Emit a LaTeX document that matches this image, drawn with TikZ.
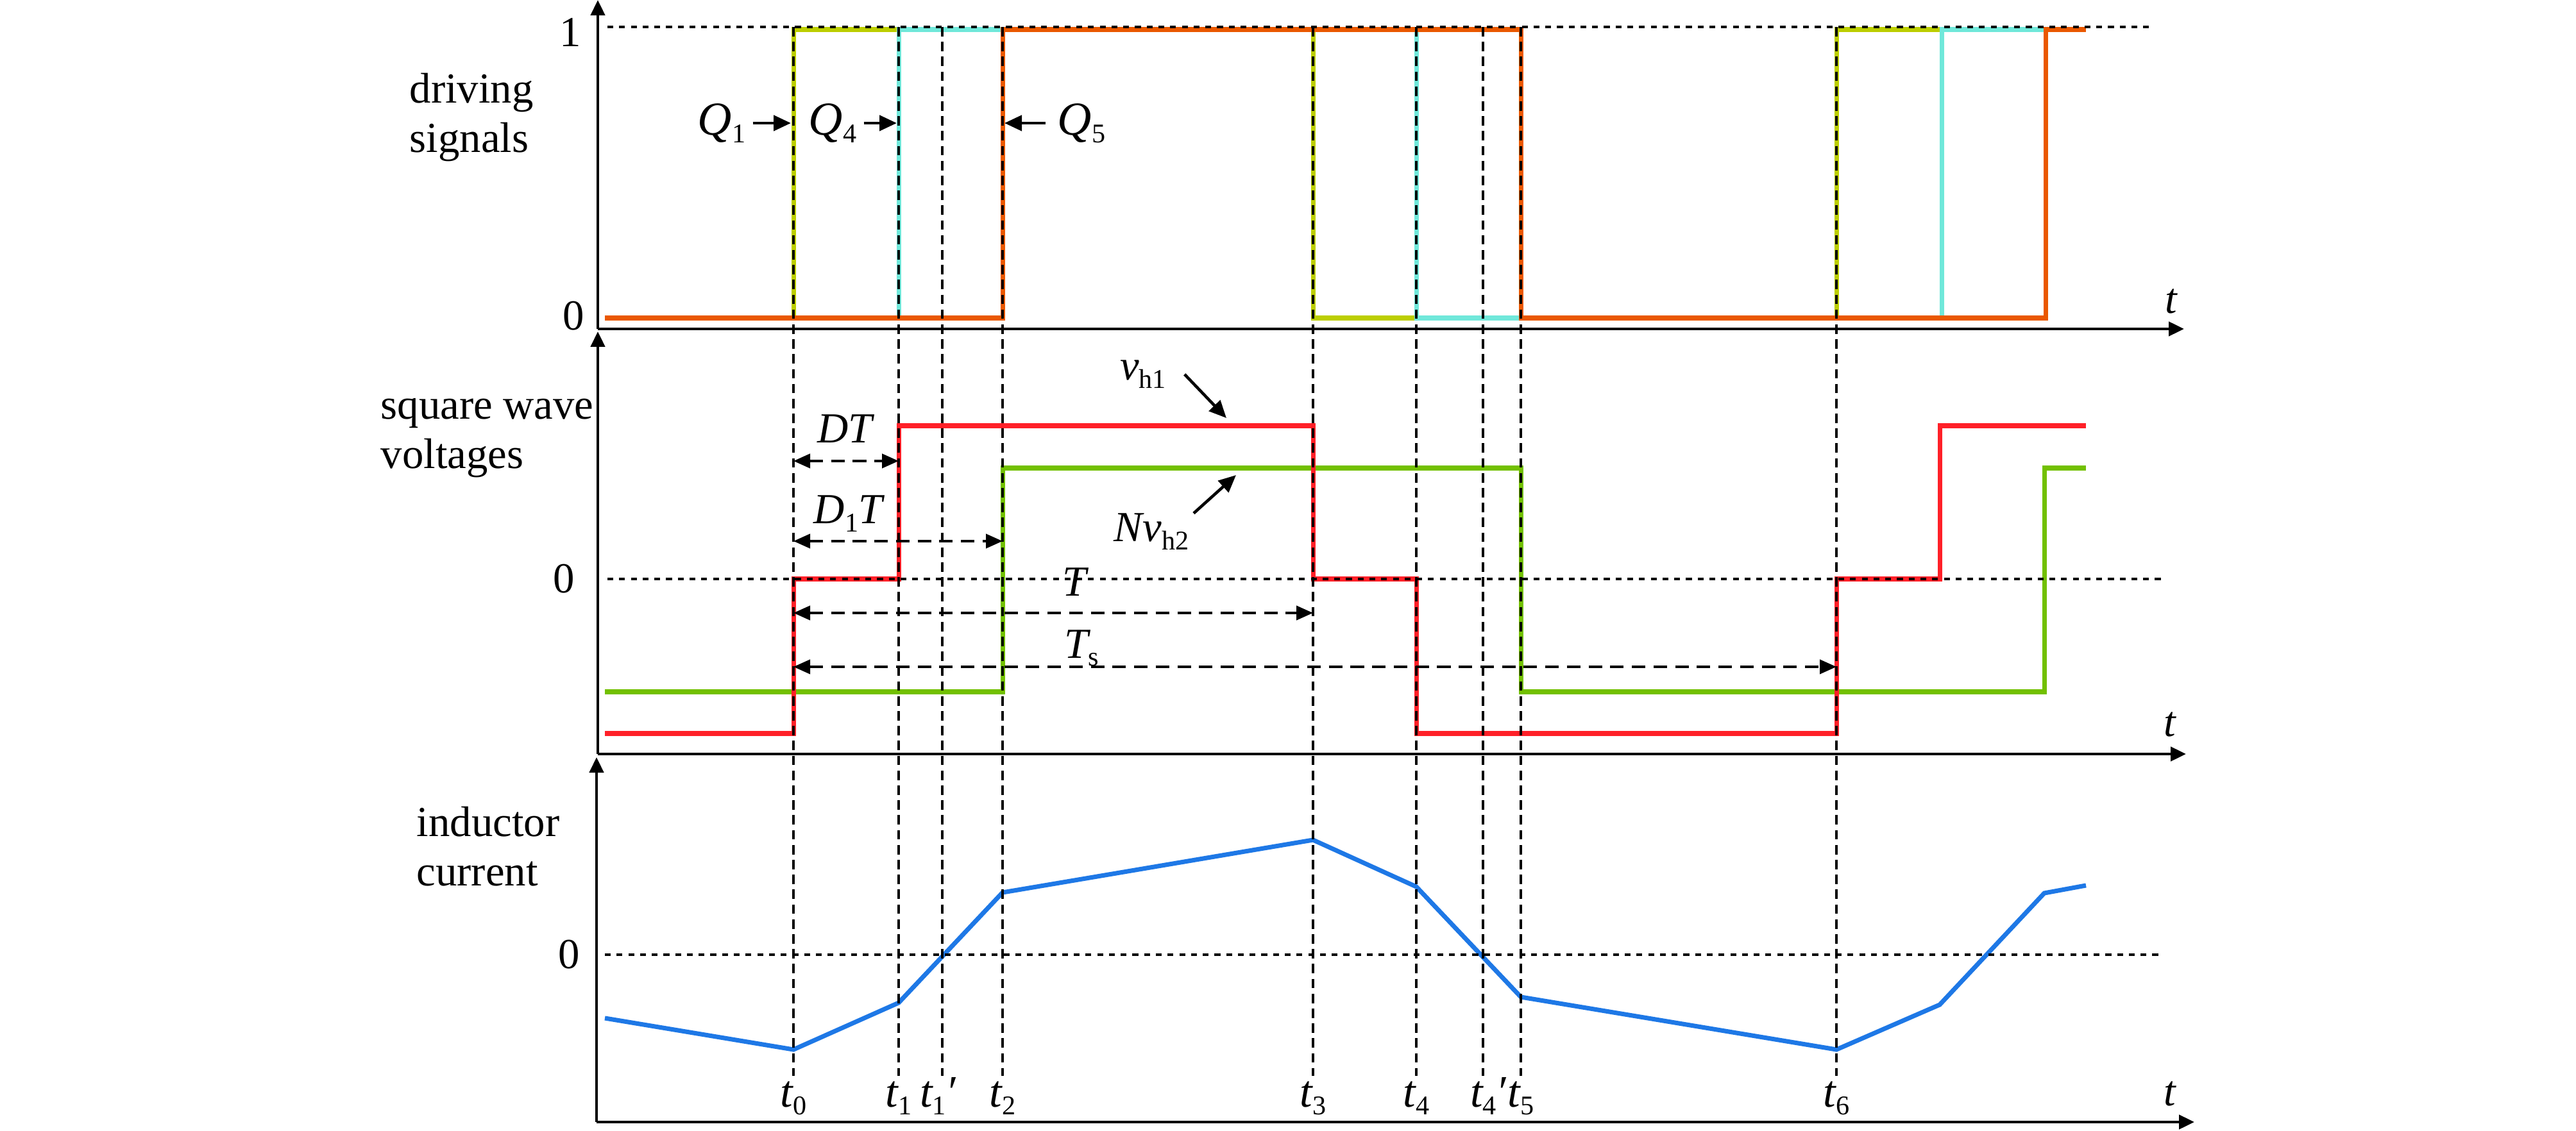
\documentclass[tikz,border=0pt]{standalone}
\usepackage{fontspec}
\setmainfont{Liberation Serif}
\usetikzlibrary{arrows.meta}

\definecolor{qone}{RGB}{188,206,0}
\definecolor{qfour}{RGB}{112,232,218}
\definecolor{qfive}{RGB}{234,88,0}
\definecolor{vhone}{RGB}{255,32,40}
\definecolor{vhtwo}{RGB}{114,192,0}
\definecolor{ilcur}{RGB}{30,120,230}

\newcommand{\ssb}[1]{\raisebox{-3.5pt}{\fontsize{12}{12}\selectfont\upshape #1}}

\tikzset{
  axisline/.style={-{Triangle[length=2.4mm,width=2.2mm]}, line width=1.3pt},
  sig/.style={line width=2pt},
  guide/.style={line width=0.9pt, dash pattern=on 4.2pt off 2.4pt},
  zeroline/.style={line width=1.4pt, dash pattern=on 2.6pt off 2.6pt},
  dimline/.style={{Triangle[length=2.6mm,width=2.2mm]}-{Triangle[length=2.6mm,width=2.2mm]}, line width=1.2pt, dash pattern=on 6pt off 3.6pt},
  tagarrow/.style={-{Triangle[length=2.7mm,width=2.4mm]}, line width=1.3pt},
  txt/.style={font=\fontsize{19}{22}\selectfont, inner sep=0pt},
  mlbl/.style={font=\fontsize{19}{22}\selectfont\itshape, inner sep=0pt},
  tlbl/.style={font=\fontsize{20}{22}\selectfont\itshape, inner sep=0pt, anchor=base},
}

\begin{document}
\begin{tikzpicture}
    \useasboundingbox (0,0) rectangle (40.16,17.63);

    %driving signals
    \draw[sig, qone] (9.43,12.67) -| (12.37,17.17) -| (20.47,12.67) -| (28.63,17.17) -- (32.52,17.17);
    \draw[sig, qfour] (9.43,12.67) -| (14.01,17.17) -| (22.08,12.67) -| (30.27,17.17) -- (32.52,17.17);
    \draw[sig, qfive] (9.43,12.67) -| (15.63,17.17) -| (23.71,12.67) -| (31.89,17.17) -- (32.52,17.17);

    %square wave voltages
    \draw[sig, vhtwo] (9.43,6.84) -| (15.63,10.33) -| (23.71,6.84) -| (31.87,10.33) -- (32.52,10.33);
    \draw[sig, vhone] (9.43,6.19) -| (12.37,8.60) -| (14.01,10.99) -| (20.47,8.60) -| (22.08,6.19) -| (28.63,8.60) -| (30.24,10.99) -- (32.52,10.99);

    %inductor current
    \draw[sig, ilcur] (9.43,1.75) -- (12.37,1.26) -- (14.01,1.99) -- (15.63,3.71) -- (20.47,4.53) -- (22.08,3.80) -- (23.71,2.08) -- (28.63,1.26) -- (30.24,1.96) -- (31.87,3.70) -- (32.52,3.82);

    \draw[zeroline] (9.47,17.21) -- (33.56,17.21);
    \draw[zeroline] (9.47,8.60) -- (33.70,8.60);
    \draw[zeroline] (9.43,2.74) -- (33.70,2.74);

    %time instants
    \draw[guide] (12.37,17.21) -- (12.37,0.85) ++(0,-0.48) node[tlbl] (lt0) {t\ssb{0}};
    \draw[guide] (14.01,17.21) -- (14.01,0.85) ++(0,-0.48) node[tlbl] (lt1) {t\ssb{1}};
    \draw[guide] (14.69,17.21) -- (14.69,0.85) ++(-0.07,-0.48) node[tlbl] (lt1p) {t\ssb{1}\char"2032};
    \draw[guide] (15.63,17.21) -- (15.63,0.85) ++(0,-0.48) node[tlbl] (lt2) {t\ssb{2}};
    \draw[guide] (20.47,17.21) -- (20.47,0.85) ++(0,-0.48) node[tlbl] (lt3) {t\ssb{3}};
    \draw[guide] (22.08,17.21) -- (22.08,0.85) ++(0,-0.48) node[tlbl] (lt4) {t\ssb{4}};
    \draw[guide] (23.12,17.21) -- (23.12,0.85) ++(0.08,-0.48) node[tlbl] (lt4p) {t\ssb{4}\char"2032};
    \draw[guide] (23.71,17.21) -- (23.71,0.85) ++(0,-0.48) node[tlbl] (lt5) {t\ssb{5}};
    \draw[guide] (28.63,17.21) -- (28.63,0.85) ++(0,-0.48) node[tlbl] (lt6) {t\ssb{6}};

    %axes
    \draw[axisline] (9.32,12.50) -- (9.32,17.63);
    \draw[axisline] (9.32,12.50) -- (34.05,12.50);
    \draw[axisline] (9.32,5.87) -- (9.32,12.46);
    \draw[axisline] (9.32,5.87) -- (34.08,5.87);
    \draw[axisline] (9.30,0.13) -- (9.30,5.82);
    \draw[axisline] (9.30,0.13) -- (34.21,0.13);
    \node[mlbl] (ttop) at (33.85,12.93) {t};
    \node[mlbl] (tmid) at (33.83,6.33) {t};
    \node[mlbl] (tbot) at (33.83,0.57) {t};

    \node[txt] (one) at (8.89,17.13) {1};
    \node[txt] (zerotop) at (8.94,12.70) {0};
    \node[txt] (zeromid) at (8.79,8.60) {0};
    \node[txt] (zerobot) at (8.87,2.74) {0};
    \node[txt, anchor=west, align=left] (drive) at (6.38,15.80) {driving\\signals};
    \node[txt, anchor=west, align=left] (square) at (5.93,10.80) {square wave\\voltages};
    \node[txt, anchor=west, align=left] (induct) at (6.49,4.43) {inductor\\current};

    %labels with arrows
    \node[mlbl, font=\fontsize{21}{24}\selectfont\itshape, anchor=east] (lq1) at (11.63,15.71) {Q\ssb{1}};
    \node[mlbl, font=\fontsize{21}{24}\selectfont\itshape, anchor=east] (lq4) at (13.36,15.71) {Q\ssb{4}};
    \node[mlbl, font=\fontsize{21}{24}\selectfont\itshape, anchor=west] (lq5) at (16.48,15.71) {Q\ssb{5}};
    \draw[tagarrow] ([xshift=3pt]lq1.east) -- (12.33,15.71);
    \draw[tagarrow] ([xshift=3pt]lq4.east) -- (13.98,15.71);
    \draw[tagarrow] ([xshift=-5pt]lq5.west) -- (15.66,15.71);

    \node[mlbl, anchor=base] (lvh1) at (17.82,11.70) {v\ssb{h1}};
    \node[mlbl, anchor=base] (lvh2) at (17.95,9.18) {Nv\ssb{h2}};
    \draw[tagarrow] ([xshift=8pt]lvh1.east) -- (19.12,11.11);
    \draw[tagarrow] ([xshift=2pt]lvh2.north east) -- (19.27,10.22);

    %intervals
    \node[mlbl, anchor=base] (ldt) at (13.17,10.72) {DT};
    \node[mlbl, anchor=base] (ld1t) at (13.22,9.46) {D\ssb{1}T};
    \node[mlbl, anchor=base] (lt) at (16.75,8.33) {T};
    \node[mlbl, anchor=base] (lts) at (16.86,7.37) {T\ssb{s}};
    \draw[dimline] (12.37,10.44) -- (14.01,10.44);
    \draw[dimline] (12.37,9.19) -- (15.63,9.19);
    \draw[dimline] (12.37,8.07) -- (20.47,8.07);
    \draw[dimline] (12.37,7.23) -- (28.63,7.23);
\end{tikzpicture}
\end{document}
